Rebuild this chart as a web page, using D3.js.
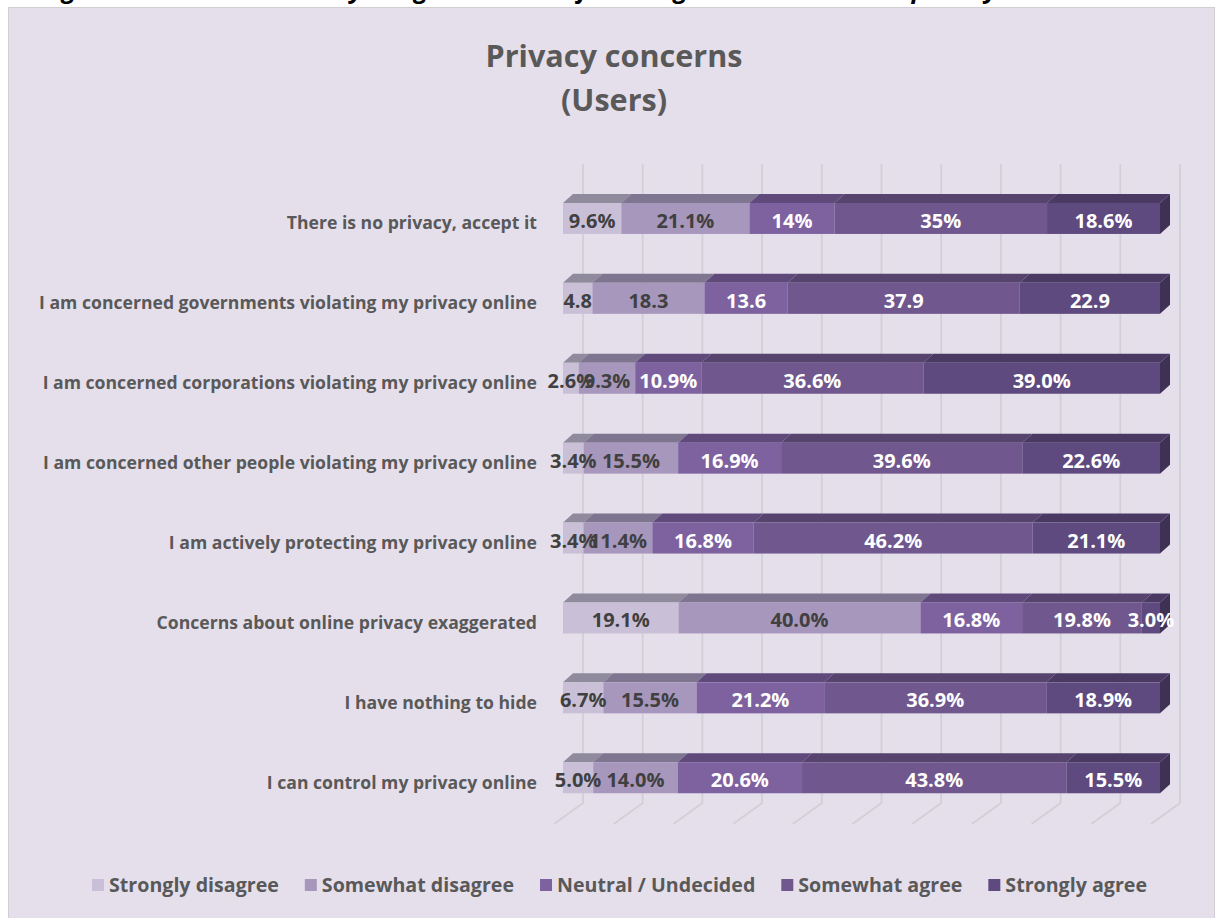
<!DOCTYPE html>
<html>
<head>
<meta charset="utf-8">
<script src="https://cdn.jsdelivr.net/npm/d3@7"></script>
<style>
  html, body { margin: 0; padding: 0; background: #ffffff; }
  svg { display: block; }
  text { font-family: "Open Sans", Lato, sans-serif; }
</style>
</head>
<body>
<svg id="chart" width="1217" height="918"></svg>
<script>
// Survey statements, top to bottom
const categories = [
  "There is no privacy, accept it",
  "I am concerned governments violating my privacy online",
  "I am concerned corporations violating my privacy online",
  "I am concerned other people violating my privacy online",
  "I am actively protecting my privacy online",
  "Concerns about online privacy exaggerated",
  "I have nothing to hide",
  "I can control my privacy online"
];

const seriesNames = ["Strongly disagree", "Somewhat disagree", "Neutral / Undecided", "Somewhat agree", "Strongly agree"];

// Responses per statement (percent), one array per answer
const stronglyDisagree = [9.6, 4.8, 2.6, 3.4, 3.4, 19.1, 6.7, 5.0];
const somewhatDisagree = [21.1, 18.3, 9.3, 15.5, 11.4, 40.0, 15.5, 14.0];
const neutral          = [14, 13.6, 10.9, 16.9, 16.8, 16.8, 21.2, 20.6];
const somewhatAgree    = [35, 37.9, 36.6, 39.6, 46.2, 19.8, 36.9, 43.8];
const stronglyAgree    = [18.6, 22.9, 39.0, 22.6, 21.1, 3.0, 18.9, 15.5];

// Data labels as printed on each segment
const labelTexts = [
  ["9.6%", "21.1%", "14%", "35%", "18.6%"],
  ["4.8", "18.3", "13.6", "37.9", "22.9"],
  ["2.6%", "9.3%", "10.9%", "36.6%", "39.0%"],
  ["3.4%", "15.5%", "16.9%", "39.6%", "22.6%"],
  ["3.4%", "11.4%", "16.8%", "46.2%", "21.1%"],
  ["19.1%", "40.0%", "16.8%", "19.8%", "3.0%"],
  ["6.7%", "15.5%", "21.2%", "36.9%", "18.9%"],
  ["5.0%", "14.0%", "20.6%", "43.8%", "15.5%"]
];

const gridTicks = [0, 10, 20, 30, 40, 50, 60, 70, 80, 90, 100];

// ---- styling ----
const frontColors = ["#c9c0d8", "#a797bd", "#7e62a0", "#70578e", "#5e4a7e"];
const topColors   = ["#908a9d", "#7e7590", "#5f4a7b", "#56436e", "#4a3a63"];
const sideColor   = "#3f3154";
const labelColors = ["#404040", "#404040", "#ffffff", "#ffffff", "#ffffff"];

const seriesValues = [stronglyDisagree, somewhatDisagree, neutral, somewhatAgree, stronglyAgree];

// Build a 100%-stacked table
const rows = categories.map((c, i) => {
  const r = { category: c };
  seriesNames.forEach((s, j) => { r[s] = seriesValues[j][i]; });
  return r;
});
const stacked = d3.stack().keys(seriesNames).offset(d3.stackOffsetExpand)(rows);

const svg = d3.select("#chart");

// Font size that makes a sample string span a given width
function fitSize(sample, width, style) {
  const t = svg.append("text").attr("font-size", 100).attr("font-weight", "bold")
    .attr("font-style", style || "normal").text(sample);
  const w = t.node().getComputedTextLength();
  t.remove();
  return 100 * width / w;
}
const catSize    = fitSize("I am concerned governments violating my privacy online", 498);
const titleSize  = fitSize("Privacy concerns", 257);
const valueSize  = fitSize("21.1%", 58);
const legendSize = fitSize("Strongly disagree", 170);
const capSize    = fitSize("gure 3.17: How much do you agree with the followin", 612, "italic");

// Chart area
svg.append("rect")
  .attr("x", 8.5).attr("y", 7.5)
  .attr("width", 1206).attr("height", 930)
  .attr("fill", "#e5dfec")
  .attr("stroke", "#d0cdd3").attr("stroke-width", 1);

// Figure caption above the chart box (mostly cut off at the top edge)
const cap = svg.append("text")
  .attr("y", -2.5)
  .attr("font-size", capSize).attr("font-weight", "bold").attr("font-style", "italic")
  .attr("fill", "#000")
  .text("Figure 3.17: How much do you agree with the following statements about privacy online?");
{
  const probe = svg.append("text").attr("font-size", capSize).attr("font-weight", "bold")
    .attr("font-style", "italic").text("Fi");
  const w = probe.node().getComputedTextLength();
  probe.remove();
  cap.attr("x", 62 - w);
}

// Title
const title = svg.append("text")
  .attr("text-anchor", "middle")
  .attr("font-size", titleSize).attr("font-weight", "bold").attr("fill", "#595959");
title.append("tspan").attr("x", 614).attr("y", 67).text("Privacy concerns");
title.append("tspan").attr("x", 614).attr("y", 111).text("(Users)");

// Scales
const x = d3.scaleLinear().domain([0, 1]).range([563, 1160]);
const xPct = d3.scaleLinear().domain([0, 100]).range([563, 1160]);
const y = d3.scaleBand().domain(categories).range([178.5, 817.7]);

const barH = 31;            // front face height
const dx = 10, dy = 9;      // bar depth offset
const wallDx = 20;          // back wall offset
const gridTop = 164, floorBack = 803, floorFront = 824, floorDx = 29;

// Gridlines on back wall + floor
const grid = svg.append("g");
gridTicks.forEach(t => {
  const xb = xPct(t) + wallDx;
  grid.append("path")
    .attr("d", `M${xb},${gridTop} L${xb},${floorBack} L${xb - floorDx},${floorFront}`)
    .attr("fill", "none").attr("stroke", "#d2cfd6").attr("stroke-width", 1.8);
});

// Category labels
svg.append("g").selectAll("text").data(categories).join("text")
  .attr("x", 537)
  .attr("y", d => y(d) + y.bandwidth() / 2 + 4)
  .attr("text-anchor", "end")
  .attr("dominant-baseline", "central")
  .attr("font-size", catSize).attr("font-weight", "bold").attr("fill", "#595959")
  .text(d => d);

// Bars (3D look: top face, front face, right face on the last segment)
const barsG = svg.append("g");
stacked.forEach((layer, j) => {
  layer.forEach((seg, i) => {
    const cat = categories[i];
    const yt = y(cat) + (y.bandwidth() - barH) / 2;
    const x0 = x(seg[0]), x1 = x(seg[1]);
    barsG.append("path")
      .attr("d", `M${x0},${yt} L${x1},${yt} L${x1 + dx},${yt - dy} L${x0 + dx},${yt - dy} Z`)
      .attr("fill", topColors[j]);
    barsG.append("rect")
      .attr("x", x0).attr("y", yt)
      .attr("width", Math.max(0, x1 - x0)).attr("height", barH)
      .attr("fill", frontColors[j]);
    if (j === stacked.length - 1) {
      barsG.append("path")
        .attr("d", `M${x1},${yt} L${x1 + dx},${yt - dy} L${x1 + dx},${yt + barH - dy} L${x1},${yt + barH} Z`)
        .attr("fill", sideColor);
    }
  });
});

// Data labels
const labG = svg.append("g");
stacked.forEach((layer, j) => {
  layer.forEach((seg, i) => {
    const cat = categories[i];
    const cy = y(cat) + y.bandwidth() / 2 + 2;
    labG.append("text")
      .attr("x", (x(seg[0]) + x(seg[1])) / 2)
      .attr("y", cy)
      .attr("text-anchor", "middle")
      .attr("dominant-baseline", "central")
      .attr("font-size", valueSize).attr("font-weight", "bold")
      .attr("fill", labelColors[j])
      .text(labelTexts[i][j]);
  });
});

// Legend, laid out left to right and centred
const legend = svg.append("g");
const items = seriesNames.map((name, j) => {
  const g = legend.append("g");
  g.append("rect").attr("x", 0).attr("y", -5).attr("width", 12).attr("height", 12).attr("fill", frontColors[j]);
  const t = g.append("text").attr("x", 17).attr("y", 0)
    .attr("dominant-baseline", "central")
    .attr("font-size", legendSize).attr("font-weight", "bold").attr("fill", "#595959")
    .text(name);
  return { g, w: 17 + t.node().getComputedTextLength() };
});
const legendSpan = 1055;
const gap = Math.max(14, (legendSpan - d3.sum(items, d => d.w)) / (items.length - 1));
const total = d3.sum(items, d => d.w) + gap * (items.length - 1);
let cx = 619.5 - total / 2;
items.forEach(it => {
  it.g.attr("transform", `translate(${cx},884)`);
  cx += it.w + gap;
});
</script>
</body>
</html>
